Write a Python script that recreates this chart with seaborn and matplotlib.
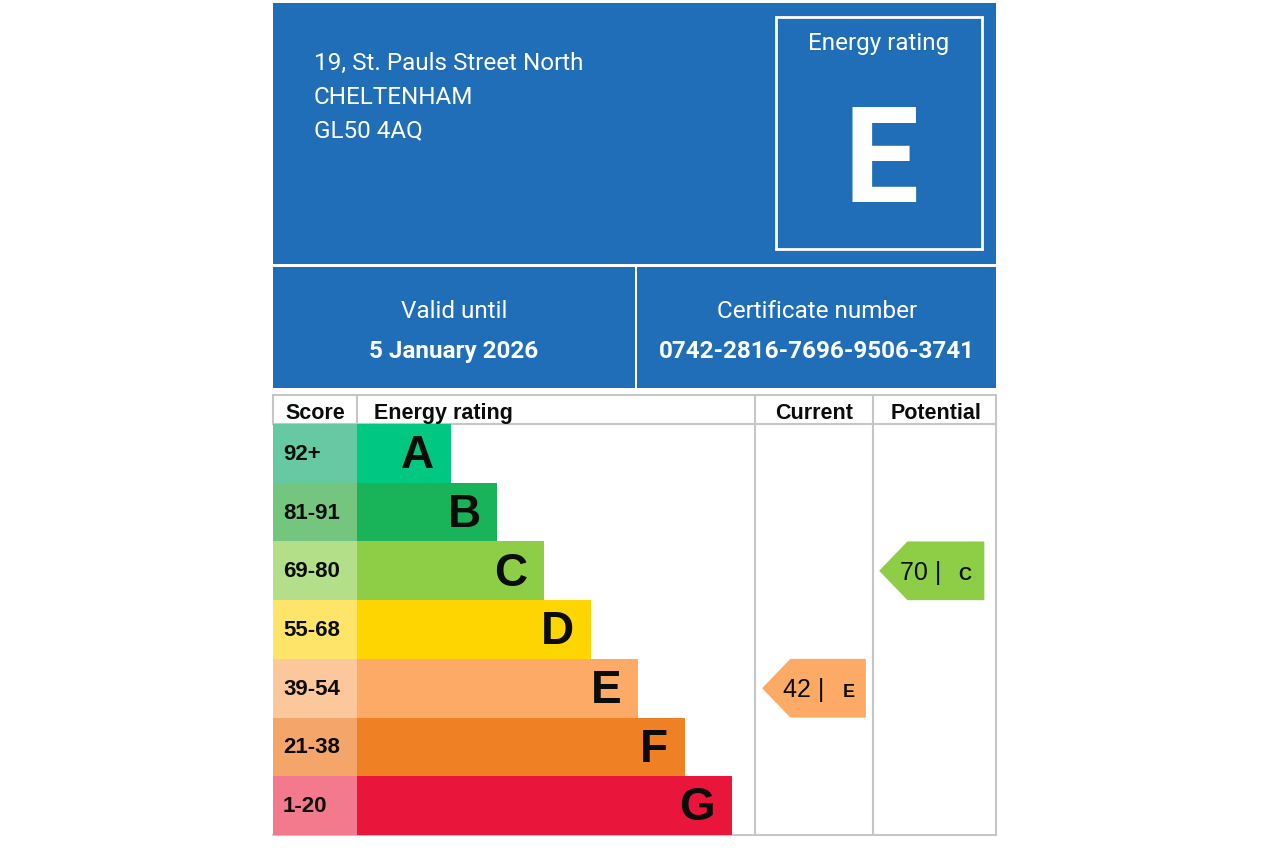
import matplotlib.pyplot as plt
import seaborn as sns
from matplotlib.patches import Rectangle, Polygon
from matplotlib.lines import Line2D

# ---------------- DATA ----------------
address = ["19, St. Pauls Street North", "CHELTENHAM", "GL50 4AQ"]
valid_until = "5 January 2026"
certificate = "0742-2816-7696-9506-3741"

bands = ["A", "B", "C", "D", "E", "F", "G"]
score_ranges = ["92+", "81-91", "69-80", "55-68", "39-54", "21-38", "1-20"]
bar_lengths = [2, 3, 4, 5, 6, 7, 8]
band_colors = ["#00c781", "#19b459", "#8dce46", "#ffd500", "#fcaa65", "#ef8023", "#e9153b"]
score_colors = ["#66c9a3", "#74c67f", "#b3df89", "#fee56a", "#fdc79c", "#f3a56a", "#f27a8c"]

current_score, current_band = 42, "E"
potential_score, potential_band = 70, "C"

# ---------------- LAYOUT HELPERS ----------------
W, H = 1280, 854
BLUE = "#1f6eb7"
GRID = "#c4c6c8"
INK = "#0b0c0c"
HEAD_FONT = ["Roboto", "DejaVu Sans"]
TABLE_FONT = ["Liberation Sans", "DejaVu Sans"]


def rect(x0, y0, x1, y1):
    # pixel box -> figure fraction [left, bottom, width, height]
    return [x0 / W, 1 - y1 / H, (x1 - x0) / W, (y1 - y0) / H]


def fx(x):
    return x / W


def fy(y):
    return 1 - y / H


sns.set_style("white")
plt.rcParams["font.family"] = TABLE_FONT
plt.rcParams["text.color"] = INK

fig = plt.figure(figsize=(12.8, 8.54), dpi=100)
fig.patch.set_facecolor("white")

# ---------------- HEADER ----------------
for x0, y0, x1, y1 in [(273, 4, 996, 265), (273, 268, 635, 389), (637, 268, 996, 389)]:
    l, b, w, h = rect(x0, y0, x1, y1)
    fig.add_artist(Rectangle((l, b), w, h, transform=fig.transFigure,
                             facecolor=BLUE, edgecolor="none"))
l, b, w, h = rect(776, 18, 982, 250)
fig.add_artist(Rectangle((l, b), w, h, transform=fig.transFigure,
                         facecolor="none", edgecolor="white", linewidth=2))

for i, line in enumerate(address):
    fig.text(fx(314), fy(70 + 33.5 * i), line, color="white", fontsize=17.5,
             family=HEAD_FONT, va="baseline", ha="left")

fig.text(fx(879), fy(50), "Energy rating", color="white", fontsize=17.5,
         family=HEAD_FONT, ha="center", va="baseline")
fig.text(fx(881), fy(202), current_band, color="white", fontsize=96,
         family=HEAD_FONT, fontweight="bold", ha="center", va="baseline")

fig.text(fx(454), fy(318), "Valid until", color="white", fontsize=17.5,
         family=HEAD_FONT, ha="center", va="baseline")
fig.text(fx(454), fy(358), valid_until, color="white", fontsize=17.5,
         family=HEAD_FONT, fontweight="bold", ha="center", va="baseline")
fig.text(fx(817), fy(318), "Certificate number", color="white", fontsize=17.5,
         family=HEAD_FONT, ha="center", va="baseline")
fig.text(fx(817), fy(358), certificate, color="white", fontsize=17.5,
         family=HEAD_FONT, fontweight="bold", ha="center", va="baseline")

# ---------------- RATING TABLE ----------------
ax_score = fig.add_axes(rect(273, 425, 357, 836))
ax_bar = fig.add_axes(rect(357, 425, 755, 836))
ax_cur = fig.add_axes(rect(755, 425, 873, 836))
ax_pot = fig.add_axes(rect(873, 425, 996, 836))

sns.barplot(x=[1] * len(bands), y=score_ranges, hue=score_ranges, palette=score_colors,
            legend=False, orient="h", width=1, saturation=1, linewidth=0, ax=ax_score)
sns.barplot(x=bar_lengths, y=bands, hue=bands, palette=band_colors,
            legend=False, orient="h", width=1, saturation=1, linewidth=0, ax=ax_bar)

ax_score.set_xlim(0, 1)
ax_bar.set_xlim(0, 8.5)
for ax in (ax_score, ax_bar, ax_cur, ax_pot):
    ax.set_ylim(6.5, -0.5)
    ax.axis("off")
ax_cur.set_xlim(0, 1)
ax_pot.set_xlim(0, 1)

for i, (rng, band, length) in enumerate(zip(score_ranges, bands, bar_lengths)):
    ax_score.text(0.12, i, rng, fontsize=16, fontweight="bold", ha="left", va="center")
    ax_bar.text(length - 0.36, i + 0.03, band, fontsize=33, fontweight="bold",
                ha="right", va="center")


def draw_arrow(ax, score, band, tip, neck, right, num_x, letter_x):
    i = bands.index(band)
    color = band_colors[i]
    ax.add_patch(Polygon([(tip, i), (neck, i - 0.5), (right, i - 0.5),
                          (right, i + 0.5), (neck, i + 0.5)], closed=True,
                         facecolor=color, edgecolor="none"))
    ax.text(num_x, i + 0.14, f"{score} |", fontsize=18, ha="left", va="baseline")
    ax.text(letter_x, i + 0.14, band, fontsize=13, fontweight="bold", ha="left", va="baseline")


draw_arrow(ax_cur, current_score, current_band, 0.06, 0.30, 0.94, 0.235, 0.74)
draw_arrow(ax_pot, potential_score, potential_band, 0.05, 0.28, 0.905, 0.22, 0.695)

# header row text
fig.text(fx(315), fy(411), "Score", fontsize=15.5, fontweight="bold", ha="center", va="center_baseline")
fig.text(fx(374), fy(411), "Energy rating", fontsize=15.5, fontweight="bold", ha="left", va="center_baseline")
fig.text(fx(814), fy(411), "Current", fontsize=15.5, fontweight="bold", ha="center", va="center_baseline")
fig.text(fx(936), fy(411), "Potential", fontsize=15.5, fontweight="bold", ha="center", va="center_baseline")

# grid lines
lines = [
    ((273, 996), (396, 396)),
    ((273, 996), (425, 425)),
    ((273, 996), (836, 836)),
    ((273, 273), (396, 425)),
    ((357, 357), (396, 425)),
    ((755, 755), (396, 836)),
    ((873, 873), (396, 836)),
    ((996, 996), (396, 836)),
]
for (x0, x1), (y0, y1) in lines:
    fig.add_artist(Line2D([fx(x0), fx(x1)], [fy(y0), fy(y1)], transform=fig.transFigure,
                          color=GRID, linewidth=1.5, zorder=0))

fig.savefig("out.png", dpi=100, facecolor="white")
